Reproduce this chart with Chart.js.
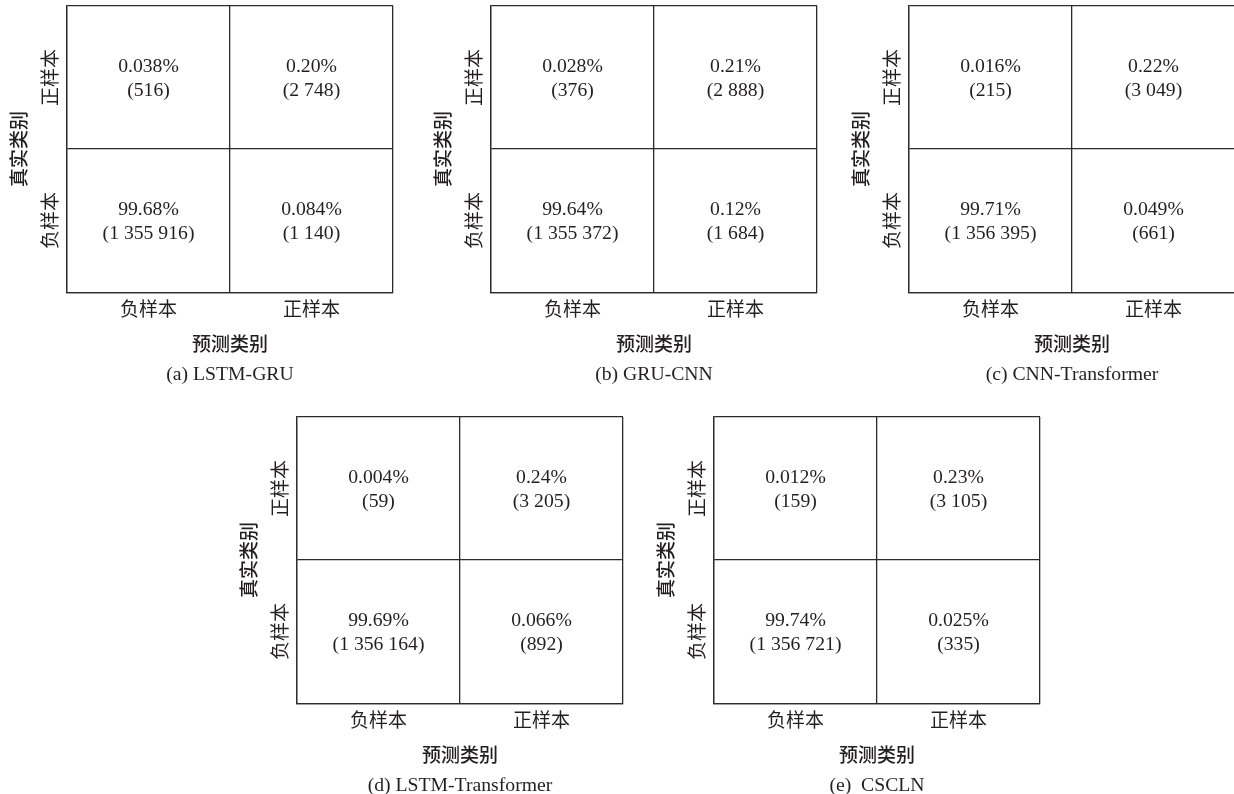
<!DOCTYPE html>
<html>
<head>
<meta charset="utf-8">
<title>Confusion matrices</title>
<script src="https://cdn.jsdelivr.net/npm/chart.js@4.4.1/dist/chart.umd.min.js"></script>
<style>
  html, body { margin: 0; padding: 0; background: #fff; overflow: hidden; }
  body { width: 1234px; height: 794px; position: relative; }
  .panel { position: absolute; }
</style>
</head>
<body>
<div class="panel" style="left:0px;top:0px"><canvas id="cmA" width="410" height="390"></canvas></div>
<div class="panel" style="left:424px;top:0px"><canvas id="cmB" width="410" height="390"></canvas></div>
<div class="panel" style="left:842px;top:0px"><canvas id="cmC" width="410" height="390"></canvas></div>
<div class="panel" style="left:230px;top:411px"><canvas id="cmD" width="410" height="390"></canvas></div>
<div class="panel" style="left:647px;top:411px"><canvas id="cmE" width="410" height="390"></canvas></div>
<script>
// axis categories
const predLabels = ["负样本", "正样本"];
const trueLabels = ["正样本", "负样本"];
// cell order: top-left, top-right, bottom-left, bottom-right
const cellPred = ["负样本", "正样本", "负样本", "正样本"];
const cellTrue = ["正样本", "正样本", "负样本", "负样本"];

const xTitle = "预测类别";
const yTitle = "真实类别";

const captions = ["(a) LSTM-GRU", "(b) GRU-CNN", "(c) CNN-Transformer", "(d) LSTM-Transformer", "(e)  CSCLN"];

const pctLstmGru = ["0.038", "0.20", "99.68", "0.084"];
const cntLstmGru = [516, 2748, 1355916, 1140];

const pctGruCnn = ["0.028", "0.21", "99.64", "0.12"];
const cntGruCnn = [376, 2888, 1355372, 1684];

const pctCnnTrans = ["0.016", "0.22", "99.71", "0.049"];
const cntCnnTrans = [215, 3049, 1356395, 661];

const pctLstmTrans = ["0.004", "0.24", "99.69", "0.066"];
const cntLstmTrans = [59, 3205, 1356164, 892];

const pctCscln = ["0.012", "0.23", "99.74", "0.025"];
const cntCscln = [159, 3105, 1356721, 335];

const LINE = "#2b2b2b";
const TEXT = "#231f20";
const FONT_FAMILY = '"Liberation Serif", "Noto Sans CJK SC", serif';

function fmtCount(n) {
  return String(n).replace(/\B(?=(\d{3})+(?!\d))/g, " ");
}

// writes percent + count in each cell, at the point the scales give
const cellTextPlugin = {
  id: "cellText",
  afterDatasetsDraw(chart) {
    const meta = chart.getDatasetMeta(0);
    const ds = chart.data.datasets[0];
    const ctx = chart.ctx;
    ctx.save();
    ctx.fillStyle = TEXT;
    ctx.font = "19.7px " + FONT_FAMILY;
    ctx.textAlign = "center";
    ctx.textBaseline = "middle";
    meta.data.forEach((pt, i) => {
      ctx.fillText(ds.pct[i] + "%", pt.x, pt.y - 11);
      ctx.fillText("(" + fmtCount(ds.counts[i]) + ")", pt.x, pt.y + 13);
    });
    ctx.restore();
  },
};

// rotated y tick labels
const yTickPlugin = {
  id: "yTicks",
  afterDraw(chart) {
    const ys = chart.scales.y;
    const ctx = chart.ctx;
    const x = chart.chartArea.left - 15;
    ctx.save();
    ctx.fillStyle = TEXT;
    ctx.font = "19px " + FONT_FAMILY;
    ctx.textAlign = "center";
    ctx.textBaseline = "middle";
    ys.ticks.forEach((t, i) => {
      const y = ys.getPixelForTick(i);
      ctx.save();
      ctx.translate(x, y);
      ctx.rotate(-Math.PI / 2);
      ctx.fillText(ys.getLabelForValue(t.value), 0, 0);
      ctx.restore();
    });
    ctx.restore();
  },
};

function makeMatrix(canvasId, caption, pct, counts) {
  const ctx = document.getElementById(canvasId).getContext("2d");
  const points = cellPred.map((p, i) => ({ x: p, y: cellTrue[i] }));
  return new Chart(ctx, {
    type: "scatter",
    data: {
      datasets: [
        {
          data: points,
          pct: pct,
          counts: counts,
          pointRadius: 0,
          pointHoverRadius: 0,
        },
      ],
    },
    options: {
      responsive: false,
      animation: false,
      events: [],
      layout: { padding: { left: 0, top: 6, right: 17, bottom: 3.8 } },
      scales: {
        x: {
          type: "category",
          labels: predLabels,
          offset: true,
          border: { display: true, color: LINE, width: 1.3 },
          grid: { offset: true, drawTicks: false, color: LINE, lineWidth: 1.3 },
          ticks: {
            padding: 7,
            color: TEXT,
            font: { family: FONT_FAMILY, size: 19 },
            maxRotation: 0,
          },
          title: {
            display: true,
            text: xTitle,
            color: TEXT,
            font: { family: FONT_FAMILY, size: 19, weight: "500" },
            padding: { top: 5.8, bottom: 0 },
          },
        },
        y: {
          type: "category",
          labels: trueLabels,
          offset: true,
          border: { display: true, color: LINE, width: 1.3 },
          grid: { offset: true, drawTicks: false, color: LINE, lineWidth: 1.3 },
          ticks: { display: false },
          title: {
            display: true,
            text: yTitle,
            color: TEXT,
            font: { family: FONT_FAMILY, size: 19, weight: "500" },
            padding: { top: 9.3, bottom: 34.9 },
          },
        },
      },
      plugins: {
        legend: { display: false },
        tooltip: { enabled: false },
        title: {
          display: true,
          text: caption,
          position: "bottom",
          fullSize: false,
          color: TEXT,
          font: { family: FONT_FAMILY, size: 19.7, weight: "normal" },
          padding: { top: 5, bottom: 0 },
        },
      },
    },
    plugins: [cellTextPlugin, yTickPlugin],
  });
}

makeMatrix("cmA", captions[0], pctLstmGru, cntLstmGru);
makeMatrix("cmB", captions[1], pctGruCnn, cntGruCnn);
makeMatrix("cmC", captions[2], pctCnnTrans, cntCnnTrans);
makeMatrix("cmD", captions[3], pctLstmTrans, cntLstmTrans);
makeMatrix("cmE", captions[4], pctCscln, cntCscln);
</script>
</body>
</html>
